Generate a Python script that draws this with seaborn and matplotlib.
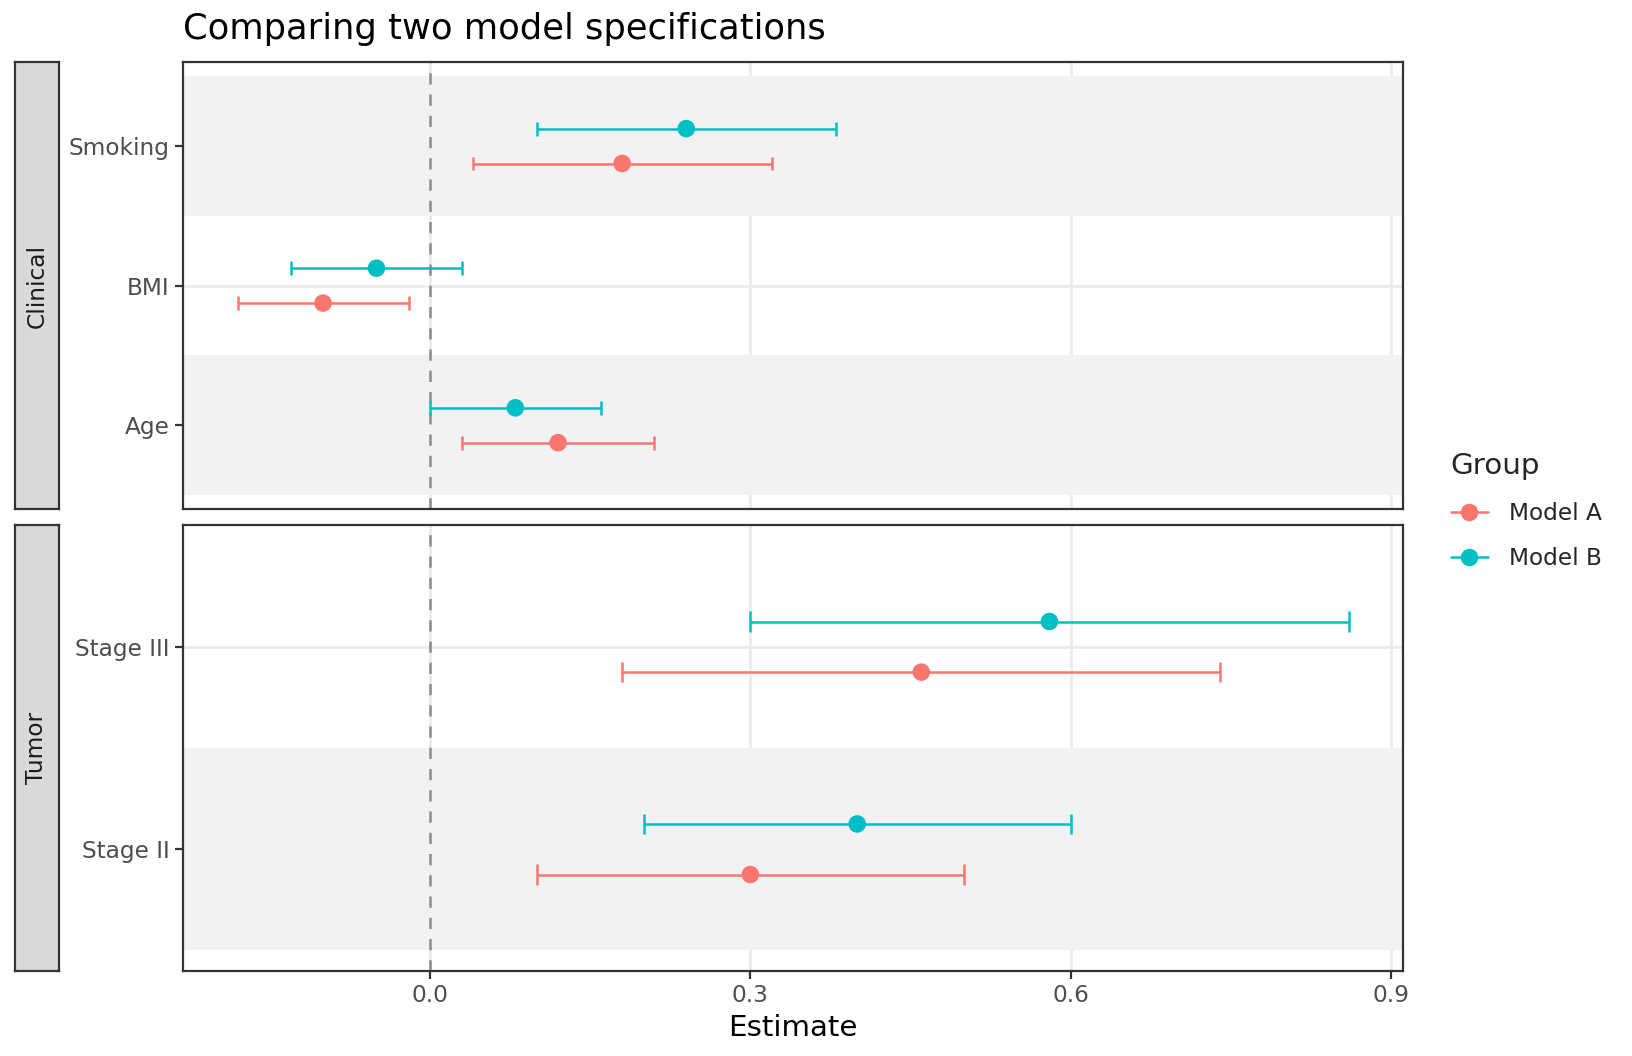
import matplotlib
matplotlib.use("Agg")
import matplotlib.pyplot as plt
from matplotlib.lines import Line2D
import numpy as np
import pandas as pd
import seaborn as sns

# Data
clinical_terms = ["Age", "BMI", "Smoking"]
tumor_terms = ["Stage II", "Stage III"]

terms = ["Age", "BMI", "Smoking", "Stage II", "Stage III"]
facets = ["Clinical", "Clinical", "Clinical", "Tumor", "Tumor"]

model_a_est = [0.12, -0.10, 0.18, 0.30, 0.46]
model_a_lo = [0.03, -0.18, 0.04, 0.10, 0.18]
model_a_hi = [0.21, -0.02, 0.32, 0.50, 0.74]

model_b_est = [0.08, -0.05, 0.24, 0.40, 0.58]
model_b_lo = [0.00, -0.13, 0.10, 0.20, 0.30]
model_b_hi = [0.16, 0.03, 0.38, 0.60, 0.86]

groups = ["Model A", "Model B"]
colors = {"Model A": "#F8766D", "Model B": "#00BFC4"}
x_ticks = [0.0, 0.3, 0.6, 0.9]

df = pd.concat([
    pd.DataFrame({"term": terms, "facet": facets, "Group": "Model A",
                  "est": model_a_est, "lo": model_a_lo, "hi": model_a_hi}),
    pd.DataFrame({"term": terms, "facet": facets, "Group": "Model B",
                  "est": model_b_est, "lo": model_b_lo, "hi": model_b_hi}),
], ignore_index=True)

sns.set_theme(style="white")
plt.rcParams["font.family"] = ["DejaVu Sans"]

fig = plt.figure(figsize=(8.16, 5.28), dpi=200)

panels = [
    ("Clinical", clinical_terms, [0.1122, 0.518, 0.7475, 0.423]),
    ("Tumor", tumor_terms, [0.1122, 0.0808, 0.7475, 0.4217]),
]
dodge = {"Model A": -0.125, "Model B": 0.125}
border = "#333333"
small = 8.4

axes = []
for name, levels, rect in panels:
    ax = fig.add_axes(rect)
    axes.append(ax)
    sub = df[df["facet"] == name].copy()
    pos = {t: i + 1 for i, t in enumerate(levels)}
    sub["y"] = sub["term"].map(pos) + sub["Group"].map(dodge)

    ax.set_axisbelow(True)
    ax.grid(True, color="#EBEBEB", linewidth=1.0)
    # alternating background bands
    for t, k in pos.items():
        if k % 2 == 1:
            ax.axhspan(k - 0.5, k + 0.5, color="#F2F2F2", zorder=1, lw=0)
    ax.axvline(0, color="#8C8C8C", linestyle=(0, (4.5, 4)), linewidth=0.9, zorder=2)

    for g in groups:
        s = sub[sub["Group"] == g]
        ax.hlines(s["y"], s["lo"], s["hi"], color=colors[g], linewidth=0.9, zorder=3)
        ax.vlines(s["lo"], s["y"] - 0.05, s["y"] + 0.05, color=colors[g], linewidth=0.9, zorder=3)
        ax.vlines(s["hi"], s["y"] - 0.05, s["y"] + 0.05, color=colors[g], linewidth=0.9, zorder=3)
    sns.scatterplot(data=sub, x="est", y="y", hue="Group", palette=colors,
                    s=40, linewidth=0, zorder=4, legend=False, ax=ax)

    ax.set_xlim(-0.231, 0.911)
    ax.set_ylim(0.4, len(levels) + 0.6)
    ax.set_yticks(list(pos.values()))
    ax.set_yticklabels(levels)
    ax.set_xticks(x_ticks)
    ax.set_xlabel("")
    ax.set_ylabel("")
    ax.tick_params(axis="both", which="both", length=2.75, width=0.8, color=border,
                   labelsize=small, labelcolor="#4D4D4D", pad=2.2,
                   left=True, bottom=True)
    for sp in ax.spines.values():
        sp.set_color(border)
        sp.set_linewidth(0.8)

    # facet strip on the left
    sax = fig.add_axes([0.0089, rect[1], 0.0275, rect[3]])
    sax.set_facecolor("#D9D9D9")
    sax.set_xticks([])
    sax.set_yticks([])
    for sp in sax.spines.values():
        sp.set_color(border)
        sp.set_linewidth(0.8)
    sax.text(0.5, 0.5, name, rotation=90, ha="center", va="center",
             fontsize=small, color="#1A1A1A", transform=sax.transAxes)

axes[0].tick_params(axis="x", bottom=False, labelbottom=False)
axes[1].set_xticklabels([f"{v:.1f}" for v in x_ticks])
axes[1].set_xlabel("Estimate", fontsize=10.6, color="black", labelpad=2.5)

fig.text(0.1122, 0.973, "Comparing two model specifications", fontsize=12.7,
         ha="left", va="center", color="black")

handles = [Line2D([0], [0], color=colors[g], marker="o", markersize=6.3,
                  linewidth=0.9, markeredgewidth=0) for g in groups]
fig.legend(handles, groups, title="Group", loc="upper left",
           bbox_to_anchor=(0.876, 0.592), frameon=False, fontsize=small,
           title_fontsize=10.6, alignment="left", handlelength=1.6,
           handletextpad=0.9, labelspacing=0.95)

fig.savefig("out.png", dpi=200)
